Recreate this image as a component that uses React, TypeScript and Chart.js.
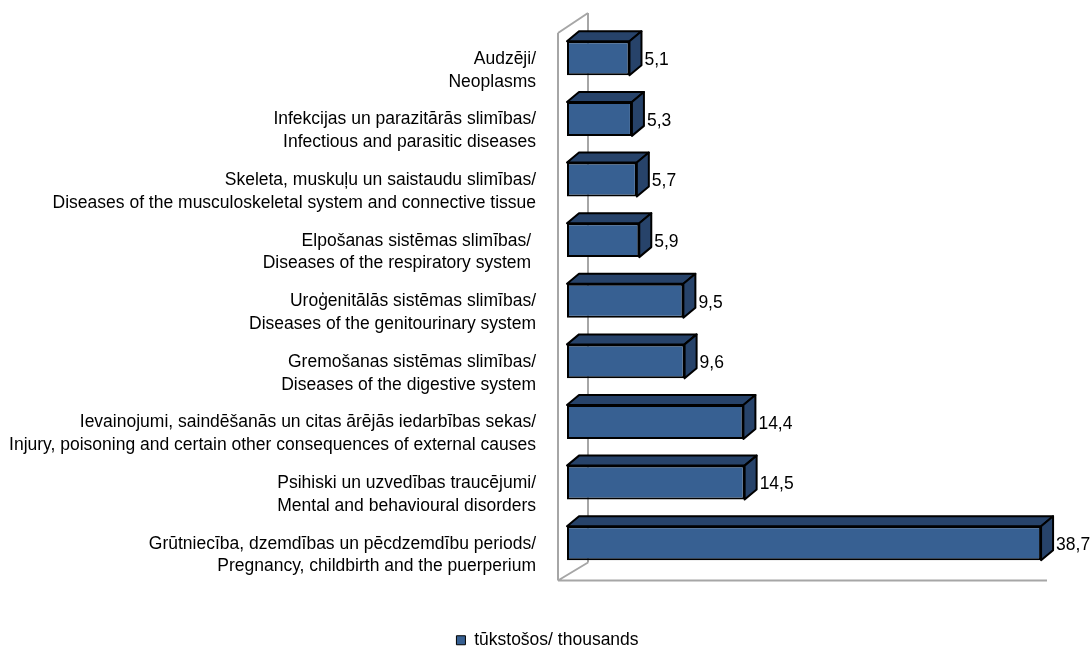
import React, { useEffect, useRef } from "react";
import { Chart, registerables } from "chart.js";

Chart.register(...registerables);

const categories: string[][] = [
  ["Audzēji/", "Neoplasms"],
  ["Infekcijas un parazitārās slimības/", "Infectious and parasitic diseases"],
  ["Skeleta, muskuļu un saistaudu slimības/", "Diseases of the musculoskeletal system and connective tissue"],
  ["Elpošanas sistēmas slimības/ ", "Diseases of the respiratory system "],
  ["Uroģenitālās sistēmas slimības/", "Diseases of the genitourinary system"],
  ["Gremošanas sistēmas slimības/", "Diseases of the digestive system"],
  ["Ievainojumi, saindēšanās un citas ārējās iedarbības sekas/", "Injury, poisoning and certain other consequences of external causes"],
  ["Psihiski un uzvedības traucējumi/", "Mental and behavioural disorders"],
  ["Grūtniecība, dzemdības un pēcdzemdību periods/", "Pregnancy, childbirth and the puerperium"],
];

const values: number[] = [5.1, 5.3, 5.7, 5.9, 9.5, 9.6, 14.4, 14.5, 38.7];

const seriesName = "tūkstošos/ thousands";
const axisMin = 0;
const axisMax = 40;

const FONT = "'Liberation Sans', Arial, sans-serif";
const FSIZE = 17.5;
const FRONT = "#376092";
const SIDE = "#27436a";
const WALL = "#a6a6a6";
const DX = 12;
const DY = 10;

const walls3d = {
  id: "walls3d",
  afterLayout(chart: any) {
    const lg = chart.legend;
    if (lg) {
      lg.left += 19;
      lg.right += 19;
    }
  },
  beforeDatasetsDraw(chart: any) {
    const { ctx, chartArea } = chart;
    const L = chartArea.left, R = chartArea.right, T = chartArea.top, B = chartArea.bottom;
    ctx.save();
    ctx.strokeStyle = WALL;
    ctx.lineWidth = 2;
    ctx.beginPath();
    ctx.moveTo(L - 9, T + 5);
    ctx.lineTo(L - 9, B + 7);
    ctx.moveTo(L - 9, T + 5);
    ctx.lineTo(L + 21, T - 15);
    ctx.moveTo(L + 21, T - 15);
    ctx.lineTo(L + 21, B - 11);
    ctx.moveTo(L - 9, B + 7);
    ctx.lineTo(L + 21, B - 11);
    ctx.moveTo(L - 9, B + 7);
    ctx.lineTo(R - 10, B + 7);
    ctx.stroke();
    ctx.restore();
  },
};

const bars3d = {
  id: "bars3d",
  afterDatasetsDraw(chart: any) {
    const { ctx } = chart;
    const meta = chart.getDatasetMeta(0);
    ctx.save();
    ctx.lineJoin = "round";
    meta.data.forEach((el: any, i: number) => {
      const p = el.getProps(["x", "y", "base", "height"], true);
      const x0 = Math.min(p.base, p.x);
      const x1 = Math.max(p.base, p.x);
      const yT = p.y - p.height / 2;
      const yB = p.y + p.height / 2;
      ctx.fillStyle = SIDE;
      ctx.strokeStyle = "#000";
      ctx.lineWidth = 2;
      ctx.beginPath();
      ctx.moveTo(x0, yT);
      ctx.lineTo(x0 + DX, yT - DY);
      ctx.lineTo(x1 + DX, yT - DY);
      ctx.lineTo(x1, yT);
      ctx.closePath();
      ctx.fill();
      ctx.stroke();
      ctx.beginPath();
      ctx.moveTo(x1, yT);
      ctx.lineTo(x1 + DX, yT - DY);
      ctx.lineTo(x1 + DX, yB - DY);
      ctx.lineTo(x1, yB);
      ctx.closePath();
      ctx.fill();
      ctx.stroke();
      ctx.fillStyle = "#000";
      ctx.font = `${FSIZE}px ${FONT}`;
      ctx.textAlign = "left";
      ctx.textBaseline = "middle";
      const v = values[i];
      ctx.fillText(v.toFixed(1).replace(".", ","), x1 + DX + 3, p.y + 2);
    });
    ctx.restore();
  },
};

export default function App() {
  const ref = useRef<HTMLCanvasElement | null>(null);

  useEffect(() => {
    if (!ref.current) return;
    const chart = new Chart(ref.current, {
      type: "bar",
      data: {
        labels: categories,
        datasets: [
          {
            label: seriesName,
            data: values,
            backgroundColor: FRONT,
            borderColor: "#000",
            borderWidth: 2,
            borderSkipped: false,
            barPercentage: 0.56,
            categoryPercentage: 1,
          },
        ],
      },
      options: {
        indexAxis: "y",
        responsive: false,
        animation: false,
        events: [],
        layout: { padding: { left: 0, right: 33, top: 28, bottom: -9 } },
        scales: {
          x: {
            type: "linear",
            min: axisMin,
            max: axisMax,
            position: "bottom",
            grid: { display: false, drawTicks: false },
            border: { display: false },
            ticks: { display: false },
            afterFit: (scale: any) => {
              scale.height = 48;
              scale.paddingLeft = 0;
              scale.paddingRight = 0;
            },
          },
          y: {
            type: "category",
            grid: { display: false, drawTicks: false },
            border: { display: false },
            ticks: {
              autoSkip: false,
              color: "#000",
              padding: 31,
              labelOffset: 12,
              font: { family: FONT, size: FSIZE, lineHeight: 1.31 },
            },
            afterFit: (scale: any) => {
              scale.width = 567;
              scale.paddingTop = 0;
              scale.paddingBottom = 0;
            },
          },
        },
        plugins: {
          legend: {
            display: true,
            position: "bottom",
            labels: {
              color: "#000",
              boxWidth: 9,
              boxHeight: 9,
              padding: 10,
              font: { family: FONT, size: FSIZE },
              generateLabels: (c: any) => {
                const items = Chart.defaults.plugins.legend.labels.generateLabels(c);
                return items.map((it: any) => ({ ...it, lineWidth: 1, strokeStyle: "#000" }));
              },
            },
          },
          tooltip: { enabled: false },
        },
      },
      plugins: [walls3d, bars3d],
    } as any);
    return () => chart.destroy();
  }, []);

  return (
    <div style={{ position: "fixed", left: 0, top: 0, width: 1090, height: 650, background: "#fff" }}>
      <canvas ref={ref} width={1090} height={650} />
    </div>
  );
}
